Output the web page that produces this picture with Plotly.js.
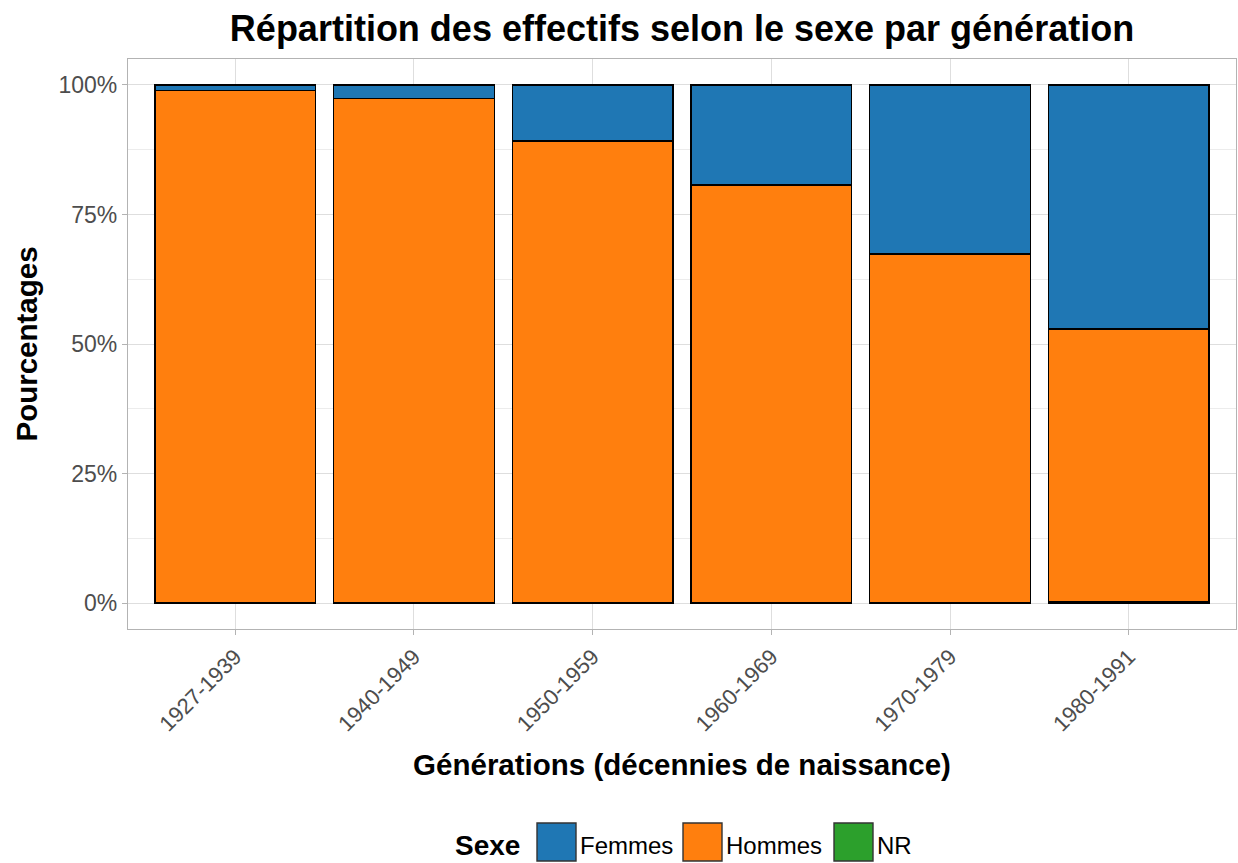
<!DOCTYPE html>
<html>
<head>
<meta charset="utf-8">
<script src="https://cdn.plot.ly/plotly-3.0.1.min.js"></script>
<style>html,body{margin:0;padding:0;background:#fff;}#chart{width:1238px;height:863px;}</style>
</head>
<body>
<div id="chart"></div>
<script>
// Data (proportions)
const generations = ["1927-1939", "1940-1949", "1950-1959", "1960-1969", "1970-1979", "1980-1991"];
const femmes = [0.011, 0.026, 0.108, 0.193, 0.326, 0.471];
const hommes = [0.989, 0.974, 0.892, 0.807, 0.674, 0.526];
const nr     = [0.000, 0.000, 0.000, 0.000, 0.000, 0.003];
const seriesNames = ["Femmes", "Hommes", "NR"];
const seriesColors = ["#1f77b4", "#ff7f0e", "#2ca02c"];
const yTickVals = [0, 0.25, 0.5, 0.75, 1];
const yTickText = ["0%", "25%", "50%", "75%", "100%"];

const FONT = "Liberation Sans, Arial, sans-serif";
const seriesValues = {Femmes: femmes, Hommes: hommes, NR: nr};

// stacking order bottom -> top: NR, Hommes, Femmes
const order = ["NR", "Hommes", "Femmes"];
const traces = order.map(name => ({
  type: "bar",
  name: name,
  x: generations,
  y: seriesValues[name],
  width: 0.9,
  marker: {color: seriesColors[seriesNames.indexOf(name)], line: {color: "#000000", width: 1.4}},
  showlegend: false,
  hovertemplate: name + ": %{y:.1%}<extra></extra>"
}));

// Plot area in pixels
const W = 1238, H = 863;
const L = 128, R = 1236, T = 59, B = 629;
const px = v => (v - L) / (R - L);
const py = v => (B - v) / (B - T);

// Custom legend (large keys as in the reference)
const shapes = [];
const annotations = [];
const legendKeys = [
  {name: "Femmes", x0: 537, x1: 576},
  {name: "Hommes", x0: 683, x1: 722},
  {name: "NR", x0: 834, x1: 873}
];
annotations.push({
  xref: "paper", yref: "paper", x: px(522), y: py(845), xanchor: "right", yanchor: "middle",
  text: "<b>Sexe</b>", showarrow: false, font: {family: FONT, size: 28, color: "#000"}
});
legendKeys.forEach(k => {
  const idx = seriesNames.indexOf(k.name);
  shapes.push({
    type: "rect", xref: "paper", yref: "paper",
    x0: px(k.x0), x1: px(k.x1), y0: py(823), y1: py(861),
    fillcolor: seriesColors[idx], line: {color: "#333333", width: 1.4}
  });
  annotations.push({
    xref: "paper", yref: "paper", x: px(k.x1 + 2), y: py(845), xanchor: "left", yanchor: "middle",
    text: k.name, showarrow: false, font: {family: FONT, size: 24, color: "#000"}
  });
});

const layout = {
  width: W, height: H,
  margin: {l: L, r: W - R, t: T, b: H - B, pad: 0},
  paper_bgcolor: "#ffffff",
  plot_bgcolor: "#ffffff",
  barmode: "stack",
  bargap: 0.1,
  font: {family: FONT},
  title: {
    text: "<b>Répartition des effectifs selon le sexe par génération</b>",
    font: {family: FONT, size: 36, color: "#000"},
    x: (L + R) / 2 / W, xanchor: "center", y: 1 - 28 / H, yanchor: "middle"
  },
  xaxis: {
    type: "category",
    range: [-0.6, 5.6],
    showline: true, linecolor: "#b3b3b3", linewidth: 1.2, mirror: true,
    showgrid: true, gridcolor: "#dedede", gridwidth: 1.2,
    ticks: "outside", ticklen: 5, tickcolor: "#b3b3b3", tickwidth: 1.2,
    tickangle: -45,
    tickfont: {family: FONT, size: 22, color: "#4d4d4d"},
    zeroline: false,
    title: {text: "<b>Générations (décennies de naissance)</b>", font: {family: FONT, size: 29.5, color: "#000"}, standoff: 19},
    automargin: false
  },
  yaxis: {
    range: [-0.05, 1.05],
    tickvals: yTickVals, ticktext: yTickText,
    showline: true, linecolor: "#b3b3b3", linewidth: 1.2, mirror: true,
    showgrid: true, gridcolor: "#dedede", gridwidth: 1.2,
    minor: {tickvals: [0.125, 0.375, 0.625, 0.875], showgrid: true, gridcolor: "#ececec", gridwidth: 1, ticks: ""},
    ticks: "outside", ticklen: 5, tickcolor: "#b3b3b3", tickwidth: 1.2,
    tickfont: {family: FONT, size: 23, color: "#4d4d4d"},
    zeroline: false,
    title: {text: "<b>Pourcentages</b>", font: {family: FONT, size: 29.5, color: "#000"}, standoff: 12},
    automargin: false
  },
  shapes: shapes,
  annotations: annotations
};

Plotly.newPlot("chart", traces, layout, {displayModeBar: false, responsive: false});
</script>
</body>
</html>
